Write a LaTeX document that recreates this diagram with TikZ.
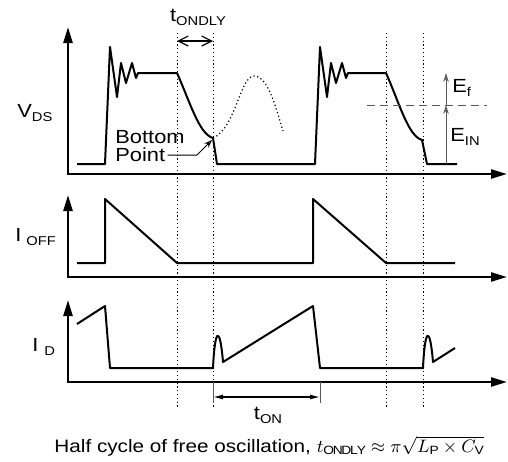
\documentclass[tikz,border=0pt]{standalone}
\usepackage{fontspec}
\setmainfont{Liberation Sans}[FakeStretch=1.15]
\usepackage{tikz}
\usetikzlibrary{arrows.meta}
\newcommand{\subtxt}[1]{\raisebox{-0.4ex}{\fontsize{6.4}{7}\selectfont #1}}

\begin{document}
\begin{tikzpicture}[
    x=0.5pt, y=-0.5pt,
    wave/.style={line width=1pt, line join=round},
    axis/.style={line width=1.2pt, {Triangle[length=8pt,width=4.5pt]}-{Triangle[length=8pt,width=4.5pt]}},
    guide/.style={line width=0.45pt, dash pattern=on 0.6pt off 1.3pt},
    dim/.style={draw=black!65, line width=0.5pt},
    lbl/.style={font=\fontsize{9.5}{11}\selectfont, inner sep=0pt},
    arr/.style={line width=0.6pt}
  ]
    \useasboundingbox (0,0) rectangle (508,461);
    % axes
    \foreach \yb/\yt in {174/27, 277/195, 382/300}
      \draw[axis] (68,\yt) -- (68,\yb) -- (507,\yb);
    % timing guides
    \foreach \x in {177,213,386,423}
      \draw[guide] (\x,33) -- (\x,408);

    % V_DS
    \draw[wave] (77,164) -- (105,164) -- (110,47) -- (117,97) -- (121,63) -- (126,83)
      -- (132,63) -- (136,78) -- (138,73) -- (177,73)
      .. controls (190,102) and (199,134) .. (213,138) -- (217,164) -- (315,164)
      -- (320,47) -- (327,97) -- (331,63) -- (336,83) -- (342,63) -- (346,78)
      -- (348,73) -- (386,73) .. controls (399,102) and (408,136) .. (422,140)
      -- (427,164) -- (457,164);
    \draw[guide, line width=0.6pt] (213,138) .. controls (236,128) and (240,76) .. (254,76)
      .. controls (268,76) and (276,108) .. (283,131);
    \node[lbl, anchor=west] (vds) at (17,113) {V\subtxt{DS}};

    \coordinate (d1) at (177,41);
    \coordinate (d2) at (213,41);
    \draw[arr, {Straight Barb[length=5pt,width=5pt]}-{Straight Barb[length=5pt,width=5pt]}] (d1) -- (d2);
    \node[lbl] (tondly) at (198,17) {t\subtxt{ONDLY}};

    \node[lbl, anchor=west] (bottom) at (115,137) {Bottom};
    \node[lbl, anchor=west] (point) at (115,155) {Point};
    \coordinate (bpt) at (212,140);
    \draw[line width=0.5pt, -{Stealth[open,length=4pt,width=3pt]}] ([xshift=1pt]point.east) -- (197,155) -- (bpt);

    \draw[dim, dash pattern=on 4pt off 2.5pt] (367,105) -- (487,105);
    \coordinate (ebase) at (446,164);
    \coordinate (emid) at (446,105);
    \coordinate (etop) at (446,73);
    \draw[dim, -{Stealth[open,length=4.5pt,width=2.8pt]}] (ebase) -- (emid);
    \draw[dim, -{Stealth[open,length=4.5pt,width=2.8pt]}] (emid) -- (etop);
    \node[lbl, anchor=west] (ef) at (452,88) {E\subtxt{f}};
    \node[lbl, anchor=west] (ein) at (450,137) {E\subtxt{IN}};

    % I_OFF
    \draw[wave] (77,263) -- (105,263) -- (105,199) -- (177,263) -- (313,263)
      -- (313,199) -- (386,263) -- (455,263);
    \node[lbl, anchor=west] (ioff) at (15,237) {I\hspace{2.5pt}\subtxt{OFF}};

    % I_D
    \draw[wave] (77,324) -- (105,306) -- (110,368) -- (213,368)
      .. controls (215,326) and (220,326) .. (223,362) -- (313,306) -- (320,368)
      -- (423,368) .. controls (425,326) and (430,326) .. (433,362) -- (455,348);
    \node[lbl, anchor=west] (id) at (32,347) {I\hspace{3pt}\subtxt{D}};

    \draw[dim] (213,382) -- (213,403);
    \draw[dim] (320,382) -- (320,403);
    \coordinate (on1) at (213,397);
    \coordinate (on2) at (320,397);
    \draw[arr, {Latex[length=5pt,width=2.5pt]}-{Latex[length=5pt,width=2.5pt]}] (on1) -- (on2);
    \node[lbl] (ton) at (268,415) {t\subtxt{ON}};

    \node[lbl, font=\fontsize{9}{11}\selectfont] (caption) at (269,446)
      {Half cycle of free oscillation, $t_{\mathrm{ONDLY}} \approx \pi\sqrt{L_{\mathrm{P}} \times C_{\mathrm{V}}}$};
  \end{tikzpicture}
\end{document}
